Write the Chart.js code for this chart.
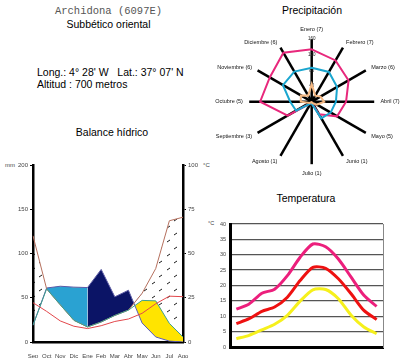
<!DOCTYPE html>
<html><head><meta charset="utf-8">
<script src="https://cdn.jsdelivr.net/npm/chart.js@4/dist/chart.umd.min.js"></script>
<style>
html,body{margin:0;padding:0;background:#fff;}
body{width:400px;height:358px;position:relative;overflow:hidden;font-family:'Liberation Sans',Arial,sans-serif;}
.t{position:absolute;white-space:nowrap;color:#000;line-height:1;}
canvas{position:absolute;}
</style></head><body>
<div class="t" style="left:0;width:217px;top:6px;text-align:center;font-family:'Liberation Mono',monospace;font-size:10.5px;color:#555;">Archidona (6097E)</div>
<div class="t" style="left:0;width:217px;top:19px;text-align:center;font-size:10.5px;">Subbético oriental</div>
<div class="t" style="left:37px;top:67px;font-size:10.5px;">Long.: 4° 28' W&nbsp;&nbsp; Lat.: 37° 07' N</div>
<div class="t" style="left:37px;top:79px;font-size:10.5px;">Altitud : 700 metros</div>
<div class="t" style="left:52px;width:120px;top:127px;text-align:center;font-size:10.5px;">Balance hídrico</div>
<div class="t" style="left:252px;width:120px;top:5px;text-align:center;font-size:10.5px;">Precipitación</div>
<div class="t" style="left:246px;width:120px;top:193px;text-align:center;font-size:10.5px;">Temperatura</div>
<div class="t" style="left:5px;top:162px;font-size:6px;color:#444;">mm</div>
<div class="t" style="left:203px;top:162px;font-size:6px;color:#444;">°C</div>
<div class="t" style="left:208px;top:221px;font-size:5.5px;color:#444;">°C</div>

<canvas id="bal" width="215" height="218" style="left:0;top:140px;width:215px;height:218px;"></canvas>
<canvas id="rad" width="200" height="170" style="left:200px;top:20px;width:200px;height:170px;"></canvas>
<canvas id="tmp" width="200" height="148" style="left:200px;top:210px;width:200px;height:148px;"></canvas>

<script>
// ---------- data ----------
const mesesBalance = ['Sep','Oct','Nov','Dic','Ene','Feb','Mar','Abr','May','Jun','Jul','Ago'];
const precipitacion = [19, 61, 63, 62, 61.5, 82, 51, 58.5, 21.5, 5.7, 1, 0];
const etp = [120, 60, 42, 24.5, 17, 22.6, 30, 36, 55, 83, 137, 141];
const etr = [19, 60, 42, 24.5, 17, 22.6, 30, 36, 47, 46.5, 21, 5.7];
const tempBalance = [22.2, 17.3, 11.9, 8.9, 7.6, 9.2, 11.6, 13, 16.2, 21.6, 25.9, 25.6];
const recargaMeses = ['Oct','Nov','Dic','Ene'];
const excedenteMeses = ['Ene','Feb','Mar','Abr','May'];

const mesesRadar = ['Enero (7)','Febrero (7)','Marzo (6)','Abril (7)','Mayo (5)','Junio (1)','Julio (1)','Agosto (1)','Septiembre (3)','Octubre (5)','Noviembre (6)','Diciembre (6)'];
const precMaxima = [134, 122, 109, 88, 75, 37, 3, 4, 71, 132, 124, 145];
const precMedia = [87, 88, 75, 62, 56, 49, 5, 5, 46, 55, 85, 89];
const precMinima = [45, 18, 26, 32, 15, 4, 1, 1, 6, 28, 32, 18];

const mesesTemp = ['Ene','Feb','Mar','Abr','May','Jun','Jul','Ago','Sep','Oct','Nov','Dic'];
const tMaxima = [12.3, 14, 17.5, 18.8, 23.2, 29.2, 33.5, 32.6, 28.6, 22.7, 16.8, 13.2];
const tMedia = [7.6, 9.2, 11.6, 13, 16.2, 21.6, 25.9, 25.6, 22.2, 17.3, 11.9, 8.9];
const tMinima = [2.7, 3.8, 5.6, 7.4, 10.3, 14.9, 18.6, 18.7, 15.7, 10.3, 6.5, 4.3];

Chart.defaults.font.family = "'Liberation Sans', Arial, sans-serif";
Chart.defaults.animation = false;

const recarga = precipitacion.map((v,i) => recargaMeses.includes(mesesBalance[i]) ? v : null);
const excedente = precipitacion.map((v,i) => excedenteMeses.includes(mesesBalance[i]) ? v : null);

// hatch pattern for deficit
const pc = document.createElement('canvas');
pc.width = 15; pc.height = 14;
const px = pc.getContext('2d');
px.strokeStyle = '#000'; px.lineWidth = 0.9;
px.beginPath();
px.moveTo(2,4); px.lineTo(5,2);
px.moveTo(9,11); px.lineTo(12,9);
px.stroke();
const hatch = px.createPattern(pc, 'repeat');

const none = 'rgba(0,0,0,0)';
new Chart(document.getElementById('bal'), {
  type: 'line',
  data: {
    labels: mesesBalance,
    datasets: [
      {data: etp, borderColor: '#b5705e', borderWidth: 1, fill: false, order: 2},
      {data: precipitacion, borderColor: '#5a5aae', borderWidth: 1, fill: false, order: 2},
      {data: etr, borderColor: '#3fa08c', borderWidth: 1, fill: false, order: 1},
      {data: tempBalance, yAxisID: 'y2', borderColor: '#e2474b', borderWidth: 1, fill: false, order: 0},
      {data: etr, borderColor: none, borderWidth: 0, fill: {target: 1, above: '#ffe400', below: none}, order: 5},
      {data: recarga, borderColor: none, borderWidth: 0, fill: {target: 0, above: '#2aa2d2', below: none}, order: 6},
      {data: excedente, borderColor: none, borderWidth: 0, fill: {target: 0, above: '#0b1466', below: none}, order: 6},
      {data: etp, borderColor: none, borderWidth: 0, fill: {target: 2, above: hatch, below: none}, order: 7}
    ]
  },
  options: {
    responsive: false,
    layout: {padding: {top: 25, left: 0, right: 0, bottom: 0}},
    plugins: {legend: {display: false}, tooltip: {enabled: false}},
    elements: {point: {radius: 0}, line: {tension: 0}},
    scales: {
      x: {offset: false, grid: {display: false}, border: {color: '#000', width: 2.5},
          ticks: {font: {size: 6}, color: '#444', padding: 3, autoSkip: false, maxRotation: 0},
          afterFit: s => { s.height = 16; }},
      y: {position: 'left', min: 0, max: 200,
          ticks: {stepSize: 50, font: {size: 6}, color: '#444', padding: 2},
          grid: {display: true, drawOnChartArea: false, drawTicks: true, tickLength: 3, color: '#000'},
          border: {color: '#000', width: 2.5},
          afterFit: s => { s.width = 33; }},
      y2: {position: 'right', min: 0, max: 100,
          ticks: {stepSize: 25, font: {size: 6}, color: '#444', padding: 2},
          grid: {display: true, drawOnChartArea: false, drawTicks: true, tickLength: 3, color: '#000'},
          border: {color: '#000', width: 2.5},
          afterFit: s => { s.width = 32; }}
    }
  }
});

new Chart(document.getElementById('rad'), {
  type: 'radar',
  data: {
    labels: mesesRadar,
    datasets: [
      {data: precMinima, borderColor: '#f4b883', borderWidth: 2, fill: false},
      {data: precMedia, borderColor: '#1aa6cf', borderWidth: 2, fill: false},
      {data: precMaxima, borderColor: '#e8287c', borderWidth: 2, fill: false}
    ]
  },
  options: {
    responsive: false,
    plugins: {legend: {display: false}, tooltip: {enabled: false}},
    elements: {point: {radius: 0}, line: {tension: 0}},
    scales: {
      r: {
        min: 0, max: 160,
        ticks: {stepSize: 40, font: {size: 4.5}, color: '#222', showLabelBackdrop: false},
        grid: {display: false},
        angleLines: {display: true, color: '#000', lineWidth: 2.5},
        pointLabels: {font: {size: 5.5}, color: '#111', padding: 2},
        afterFit: s => {
          const nx = 111.7, ny = 81.7, nr = 62.5;
          const ox = s.xCenter, oy = s.yCenter, orr = s.drawingArea;
          (s._pointLabelItems || []).forEach((it, i) => {
            const a = s.getIndexAngle(i) - Math.PI / 2;
            let dx = (nx - ox) + (nr - orr) * Math.cos(a);
            let dy = (ny - oy) + (nr - orr) * Math.sin(a);
            const h = it.bottom - it.top;
            const sn = Math.sin(a);
            if (Math.abs(Math.cos(a)) > 0.01) {
              if (sn < -0.01) dy += h / 2;
              else if (sn > 0.01) dy -= h / 2;
            }
            it.x += dx; it.left += dx; it.right += dx;
            it.y += dy; it.top += dy; it.bottom += dy;
          });
          s.xCenter = nx; s.yCenter = ny; s.drawingArea = nr;
        }
      }
    }
  }
});

new Chart(document.getElementById('tmp'), {
  type: 'line',
  data: {
    labels: mesesTemp,
    datasets: [
      {data: tMaxima, borderColor: '#ec1f7c', borderWidth: 3, fill: false},
      {data: tMedia, borderColor: '#ee1111', borderWidth: 3, fill: false},
      {data: tMinima, borderColor: '#f6f01c', borderWidth: 3, fill: false}
    ]
  },
  options: {
    responsive: false,
    layout: {padding: {top: 14, left: 0, right: 0, bottom: 0}},
    plugins: {legend: {display: false}, tooltip: {enabled: false}},
    elements: {point: {radius: 0}, line: {tension: 0.25}},
    scales: {
      x: {offset: true, grid: {display: false}, border: {color: '#000', width: 3},
          ticks: {font: {size: 5.5}, color: '#444', padding: 3, autoSkip: false, maxRotation: 0},
          afterFit: s => { s.height = 11; }},
      y: {min: 0, max: 40, ticks: {stepSize: 5, font: {size: 5.5}, color: '#444', padding: 4},
          grid: {color: '#555', lineWidth: 1.3, drawTicks: false},
          border: {color: '#000', width: 3},
          afterFit: s => { s.width = 30; }},
      y2: {position: 'right', min: 0, max: 40, ticks: {display: false}, grid: {display: false},
          border: {color: '#888', width: 1},
          afterFit: s => { s.width = 17; }}
    }
  }
});
</script>
</body></html>
